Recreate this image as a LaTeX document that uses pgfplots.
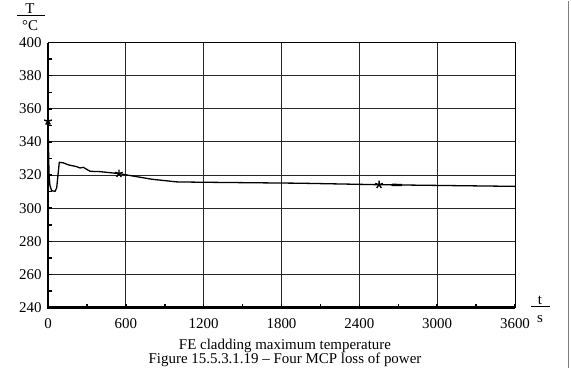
\documentclass[border=0pt]{standalone}
\usepackage{pgfplots}
\pgfplotsset{compat=1.18}
\usepackage{fontspec}
\setmainfont{Liberation Serif}
\begin{document}
\begin{tikzpicture}[x=1bp,y=1bp]
\path (0,0) rectangle (571,367);
\begin{axis}[
  at={(48bp,60bp)}, anchor=south west,
  scale only axis, width=467bp, height=265bp,
  xmin=0, xmax=3600, ymin=240, ymax=400,
  xtick={0,600,...,3600}, ytick={240,260,...,400},
  minor x tick num=1, minor y tick num=1,
  xtick pos=bottom, ytick pos=left,
  tick align=inside,
  major tick length=4bp, minor tick length=4bp,
  tick style={black, line width=1.5bp},
  grid=major,
  major grid style={black!85, line width=1bp},
  axis line style={black, line width=1bp},
  ticklabel style={font=\fontsize{15}{17}\selectfont},
  /pgf/number format/assume math mode=true,
  /pgf/number format/1000 sep={},
  xticklabel style={yshift=-7bp},
  yticklabel style={xshift=-3bp},
  clip=false,
]
\draw[black, line width=2.4bp] (rel axis cs:0,1) -- (rel axis cs:0,0) -- (rel axis cs:1,0);
\addplot[black, line width=1.3bp] coordinates {
(0,352.5) (8,320) (15,313.7) (28,310.6) (54,310.2) (67,312.3) (87,327.7)
(118,327.4) (156,326.2) (221,325.1) (247,324.3) (272,324.7) (324,322.3)
(401,322.1) (547,320.9) (800,317.5) (992,315.9) (1172,315.7) (1943,315.1)
(2552,314.2) (3076,313.7) (3600,313.2)
};
\addplot[black, line width=2.4bp] coordinates {(2650,314.1) (2730,314.0)};
\addplot[only marks, mark=star, mark size=4bp, mark options={line width=1.4bp, black}] coordinates {
(0,352.5) (547,320.9) (2552,314.2)
};
\end{axis}
\node[font=\fontsize{15}{17}\selectfont, inner sep=0] at (30,359) {T};
\draw[black, line width=0.9bp] (17,352) -- (45,352);
\node[font=\fontsize{15}{17}\selectfont, inner sep=0] at (30,342) {°C};
\node[font=\fontsize{15}{17}\selectfont, inner sep=0] at (540,67) {t};
\draw[black, line width=0.9bp] (531,61) -- (550,61);
\node[font=\fontsize{15}{17}\selectfont, inner sep=0] at (540,49) {s};
\node[font=\fontsize{15}{17}\selectfont, inner sep=0] at (285,22) {FE cladding maximum temperature};
\node[font=\fontsize{15}{17}\selectfont, inner sep=0] at (285,8) {Figure 15.5.3.1.19 – Four MCP loss of power};
\draw[gray, line width=1.2bp] (568.5,0) -- (568.5,367);
\end{tikzpicture}
\end{document}
